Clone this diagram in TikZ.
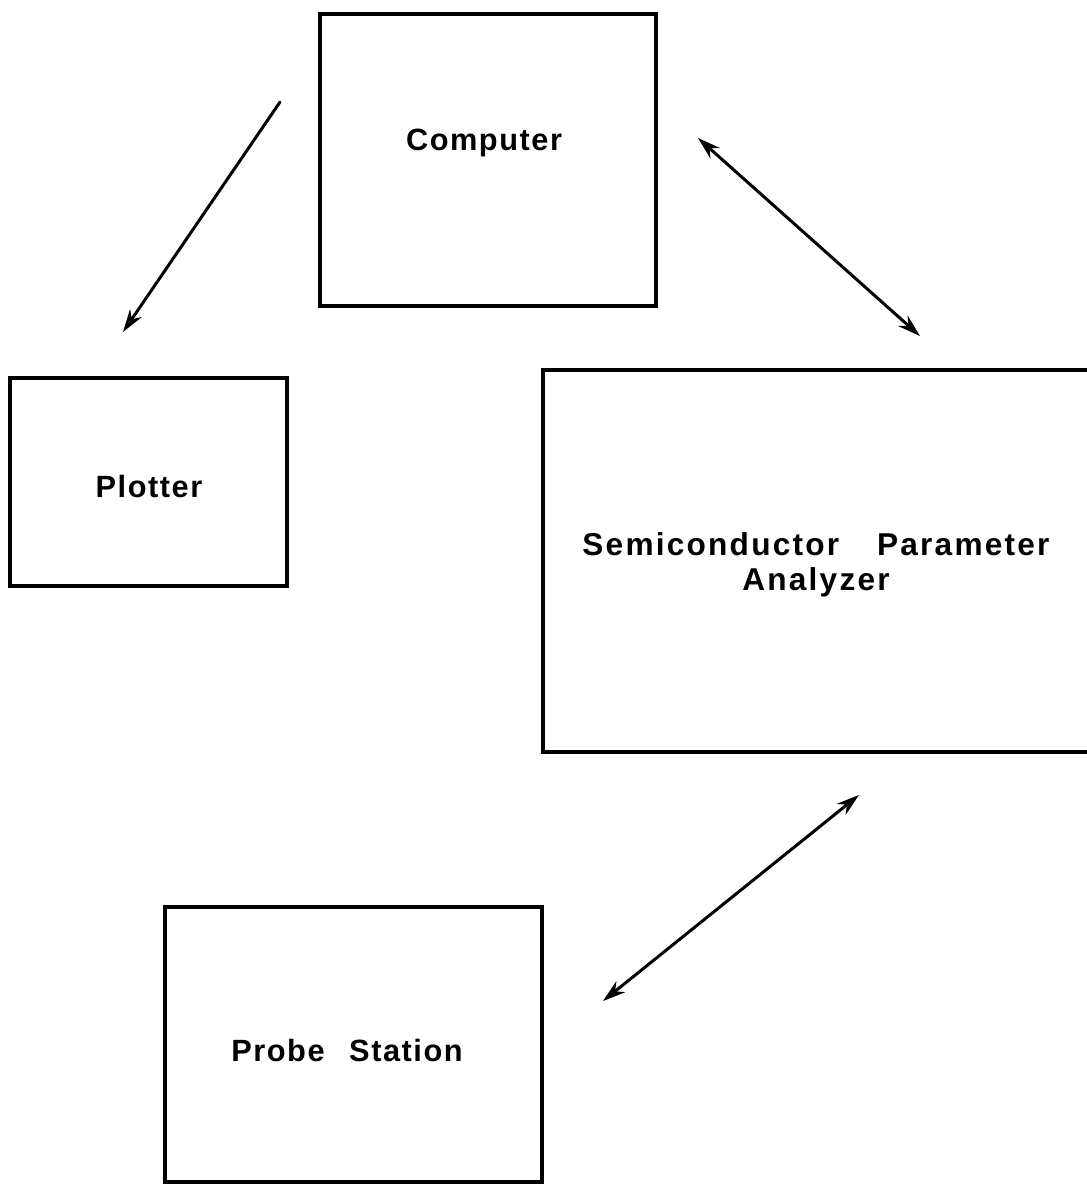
\documentclass[tikz,border=0pt]{standalone}
\usepackage{fontspec}
\setmainfont{Liberation Sans}
\newfontfamily\lblfont[LetterSpace=5]{Liberation Sans Bold}
\newfontfamily\widefont[LetterSpace=7]{Liberation Sans Bold}
\usetikzlibrary{arrows.meta}
\begin{document}
\begin{tikzpicture}[x=0.02cm,y=-0.02cm,
  boxnode/.style={draw,line width=2.3pt,rectangle,inner sep=0pt},
  lbl/.style={font=\lblfont\fontsize{17.5}{15}\selectfont,align=center,inner sep=0pt},
  widelbl/.style={font=\widefont\fontsize{18}{20}\selectfont,align=center,inner sep=0pt},
  conn/.style={line width=1.7pt,line cap=round},
  tip/.style={-{Stealth[length=13pt,width=8pt]}},
  dtip/.style={{Stealth[length=13pt,width=8pt]}-{Stealth[length=13pt,width=8pt]}}]
\useasboundingbox (0,0) rectangle (1086,1186);
% boxes
\node[boxnode,minimum width=336*0.02cm,minimum height=292*0.02cm] (comp) at (488,160) {};
\node[boxnode,minimum width=277*0.02cm,minimum height=208*0.02cm] (plot) at (148.5,482) {};
\node[boxnode,minimum width=552*0.02cm,minimum height=382*0.02cm] (spa) at (819,561) {};
\node[boxnode,minimum width=377*0.02cm,minimum height=275*0.02cm] (probe) at (353.5,1044.5) {};
% labels
\node[lbl] (compt) at (484,143) {Computer};
\node[lbl] (plott) at (149,487) {Plotter};
\node[widelbl] (spat) at (816,565) {Semiconductor\hspace{1.2em}Parameter\\Analyzer};
\node[lbl] (probet) at (347,1050) {Probe\hspace{0.8em}Station};
% connector end points
\coordinate (c1) at (280,102);
\coordinate (c2) at (123,332);
\coordinate (c3) at (698,138);
\coordinate (c4) at (920,336);
\coordinate (c5) at (859,795);
\coordinate (c6) at (603,1001);
\draw[conn,tip] (c1) -- (c2);
\draw[conn,dtip] (c3) -- (c4);
\draw[conn,dtip] (c5) -- (c6);
\end{tikzpicture}
\end{document}
